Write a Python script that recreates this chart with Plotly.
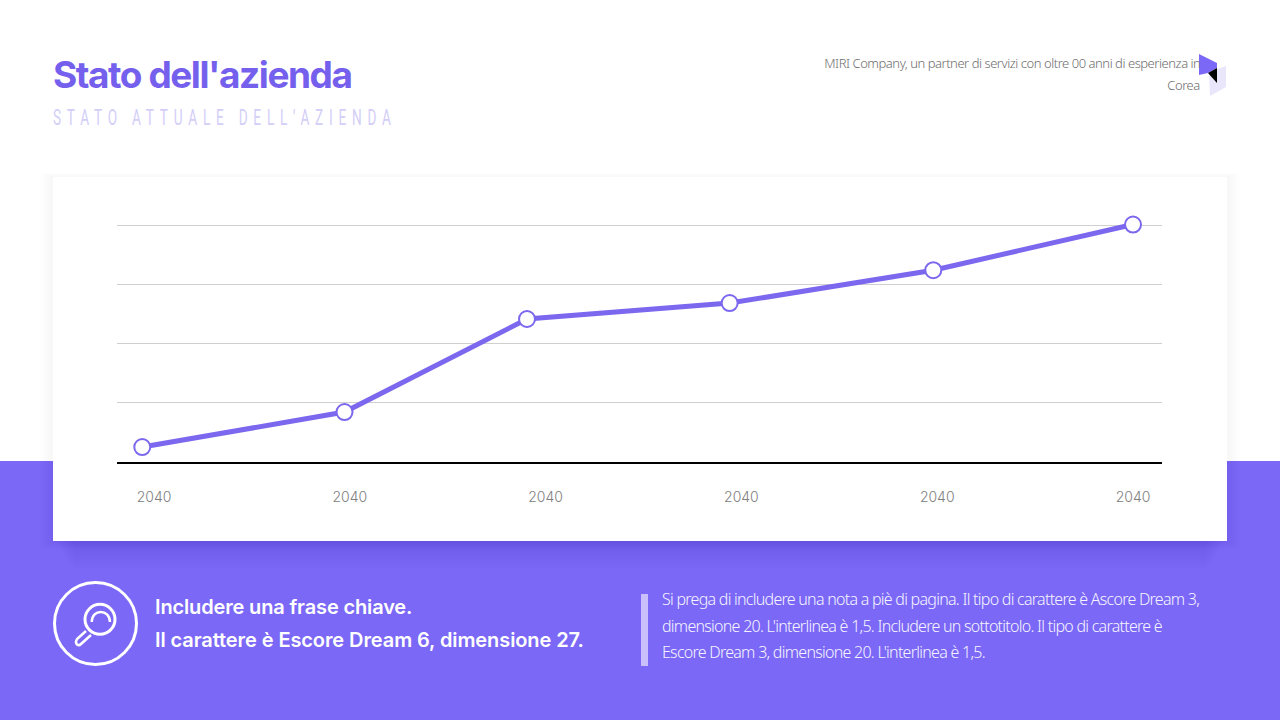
import plotly.graph_objects as go

W, H = 1280, 720
PURPLE = "#7B68F6"

tick_labels = ["2040"] * 6
tick_positions = [0, 1, 2, 3, 4, 5]
point_positions = [-0.06, 0.973, 1.905, 2.94, 3.98, 5.0]
values = [6.7, 21.4, 60.5, 67.2, 81.0, 100.2]
grid_values = [0, 25.6, 50.4, 75.2, 100]

title_text = "Stato dell'azienda"
subtitle_text = "STATO ATTUALE DELL'AZIENDA"
header_lines = ["MIRI Company, un partner di servizi con oltre 00 anni di esperienza in", "Corea"]
key_lines = ["Includere una frase chiave.", "Il carattere è Escore Dream 6, dimensione 27."]
note_lines = [
    "Si prega di includere una nota a piè di pagina. Il tipo di carattere è Ascore Dream 3,",
    "dimensione 20. L'interlinea è 1,5. Includere un sottotitolo. Il tipo di carattere è",
    "Escore Dream 3, dimensione 20. L'interlinea è 1,5.",
]


def px(x):
    return x / W


def py(y):
    return 1 - y / H


def rect(x0, y0, x1, y1, fill, opacity=1.0):
    return dict(type="rect", xref="paper", yref="paper", x0=px(x0), x1=px(x1), y0=py(y0), y1=py(y1),
                fillcolor=fill, opacity=opacity, line_width=0, layer="below")


def poly(points, fill, layer="above"):
    d = "M" + " L".join(f"{px(a):.5f},{py(b):.5f}" for a, b in points) + " Z"
    return dict(type="path", xref="paper", yref="paper", path=d, fillcolor=fill, line_width=0, layer=layer)


def circle(cx, cy, r, color, width):
    return dict(type="circle", xref="paper", yref="paper", x0=px(cx - r), x1=px(cx + r), y0=py(cy + r), y1=py(cy - r),
                line=dict(color=color, width=width), fillcolor="rgba(0,0,0,0)", layer="above")


def P(a, b):
    return f"{px(a):.5f},{py(b):.5f}"


def label(x, y, text, size, color, family, anchor="left", weight=None):
    return dict(xref="paper", yref="paper", x=px(x), y=py(y), text=text, showarrow=False, xanchor=anchor, yanchor="middle",
                align=anchor, font=dict(size=size, color=color, family=family, weight=weight), borderpad=0, borderwidth=0)


shapes = [rect(0, 461, W, H, PURPLE)]
# soft all-round shadow
for i in range(8, 0, -1):
    shapes.append(rect(53 - i * 1.7, 177 - i * 0.5, 1227 + i * 1.7, 541 + i, "#404050", 0.005))
# stronger shadow below the card, narrowing as it falls away
for i in range(14, 0, -1):
    shapes.append(rect(53 + i * 1.5, 541, 1227 - i * 1.5, 541 + i * 2, "#201870", 0.009))
shapes.append(rect(53, 177, 1227, 541, "#FFFFFF"))
shapes.append(rect(641, 594, 648, 666, "#C9BFFB"))

shapes += [
    poly([(1209, 72), (1226, 66), (1226, 87), (1210, 96)], "#E9E6FB"),
    poly([(1199, 54), (1217, 63), (1217, 68), (1208, 73), (1199, 75)], PURPLE),
    poly([(1217, 68), (1208, 73), (1217, 83)], "#000000"),
    circle(95.5, 623.5, 41, "#FFFFFF", 3),
    circle(100, 619.3, 15, "#FFFFFF", 3),
    dict(type="path", xref="paper", yref="paper",
         path=f"M{P(91.7, 622)} C{P(92, 608.5)} {P(109.5, 608.5)} {P(110, 622)}",
         line=dict(color="#FFFFFF", width=2.5), layer="above"),
    dict(type="path", xref="paper", yref="paper",
         path=f"M{P(86, 631)} L{P(77, 639)} Q{P(75, 642.5)} {P(77, 644.5)} Q{P(79, 646)} {P(81, 644)} L{P(91, 635)}",
         line=dict(color="#FFFFFF", width=2.5), layer="above"),
]

NOTE = "Noto Sans"
annotations = [
    label(53, 75, title_text, 37, "#7560EE", "Inter", weight=700),
    label(53, 118, subtitle_text, 22, "#D3CEF8", "Roboto"),
    label(1200, 63, header_lines[0], 13, "#6E6E6E", NOTE, "right", weight=300),
    label(1200, 85, header_lines[1], 13, "#6E6E6E", NOTE, "right", weight=300),
    label(155, 607, key_lines[0], 20, "#FFFFFF", "Inter", weight=600),
    label(155, 640, key_lines[1], 20, "#FFFFFF", "Inter", weight=600),
]
for y, line in zip([599, 625.5, 652], note_lines):
    annotations.append(label(662, y, line, 16, "#F6F4FF", NOTE, weight=300))

fig = go.Figure(
    go.Scatter(
        x=point_positions, y=values, mode="lines+markers",
        line=dict(color="#7B68EE", width=5),
        marker=dict(size=16, color="#FFFFFF", line=dict(color="#7B68EE", width=2)),
        hoverinfo="skip", cliponaxis=False,
    )
)
fig.update_layout(
    width=W, height=H, margin=dict(l=0, r=0, t=0, b=0),
    paper_bgcolor="#FFFFFF", plot_bgcolor="rgba(0,0,0,0)", showlegend=False,
    shapes=shapes, annotations=annotations,
    xaxis=dict(domain=[px(117), px(1162)], range=[-0.189, 5.148], tickmode="array", tickvals=tick_positions,
               ticktext=tick_labels, showgrid=False, zeroline=False, showline=False, ticks="",
               tickfont=dict(family="Inter", size=14, color="#808080", weight=300), ticklabelstandoff=24),
    yaxis=dict(domain=[py(463), py(201.2)], range=[0, 110], tickmode="array", tickvals=grid_values, showticklabels=False,
               showgrid=True, gridcolor="#CFCFCF", gridwidth=1, zeroline=True, zerolinecolor="#000000", zerolinewidth=2,
               showline=False, ticks=""),
)

post = """
document.body.style.margin='0';document.body.style.overflow='hidden';
document.querySelectorAll('.annotation-text').forEach(function(t){
  var s=t.textContent, ls=null;
  if(s.indexOf('Stato dell')===0) ls='-1.45px';
  else if(s.indexOf('STATO')===0){
    ls='9.3px';
    var x=parseFloat(t.getAttribute('x'))||0, k=0.62;
    t.setAttribute('transform','translate('+(x*(1-k))+',0) scale('+k+',1)');
  }
  else if(s.indexOf('MIRI')===0||s==='Corea') ls='-0.46px';
  else if(s.indexOf('Si prega')===0||s.indexOf('dimensione 20')===0||s.indexOf('Escore Dream 3')===0) ls='-0.73px';
  else if(s.indexOf('Includere')===0) ls='-0.15px';
  else if(s.indexOf('Il carattere')===0) ls='-0.09px';
  if(ls) t.style.letterSpacing=ls;
});
"""
fig.write_html("out.html", post_script=post, config={"displayModeBar": False})
